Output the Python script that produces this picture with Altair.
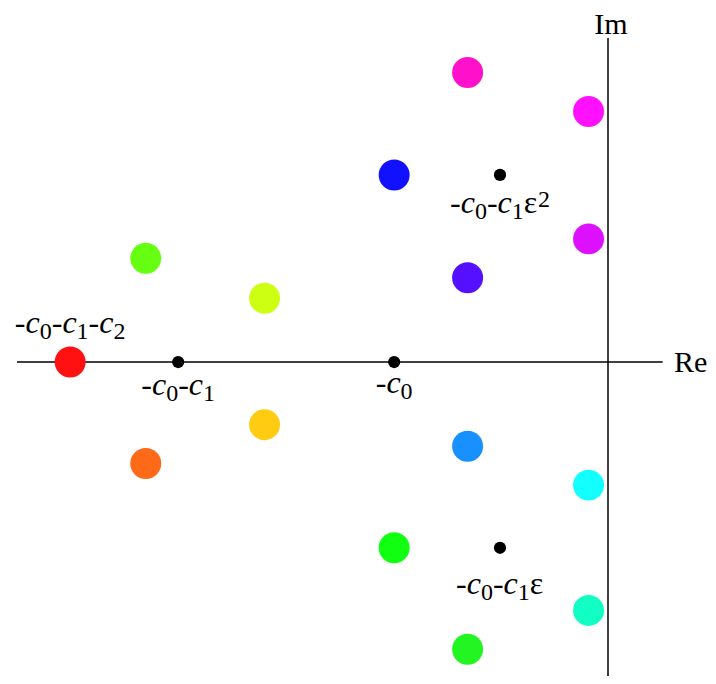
import altair as alt
import pandas as pd

# ---- data (units: c1 = 1) ----
# coloured roots
root_re = [-2.49, -2.14, -2.14, -1.59, -1.59,
           -0.99, -0.65, -0.65, -0.09, -0.09,
           -0.99, -0.65, -0.65, -0.09, -0.09]
root_im = [0.00, 0.48, -0.47, 0.295, -0.29,
           0.866, 1.34, 0.39, 1.16, 0.57,
           -0.86, -0.39, -1.33, -0.57, -1.15]
root_color = ["#ff1111", "#66ff11", "#ff6a19", "#ccff11", "#ffcc11",
              "#1111ff", "#ff11cc", "#5511ff", "#ff11ff", "#dd11ff",
              "#11ff11", "#1890ff", "#22f522", "#11ffff", "#11ffc4"]

# black centre points
center_re = [-0.99, -1.99, -0.50, -0.50]
center_im = [0.00, 0.00, 0.866, -0.86]

# labels (anchor point and text; _x subscript, ^x superscript, c italic)
label_text = ["-c_0-c_1-c_2", "-c_0-c_1", "-c_0", "-c_0-c_1ε^2", "-c_0-c_1ε"]
label_re = [-2.49, -1.99, -0.99, -0.50, -0.50]
label_im = [0.00, 0.00, 0.00, 0.866, -0.86]

# axis names
axis_names = ["Re", "Im"]

# ---- layout / style ----
W, H = 700, 668
X_DOM = [-2.7778, 0.46296]
Y_DOM = [-1.4537, 1.6389]
PX = W / (X_DOM[1] - X_DOM[0])  # pixels per unit (same on y)
FONT = "Liberation Serif"
MAIN_SIZE, SMALL_SIZE = 32, 24
label_dy = [-29, 33, 31, 38, 46]       # baseline offset below point, px
EM = {"-": 0.333, "c": 0.444, "ε": 0.44, "0": 0.5, "1": 0.5, "2": 0.5}

xs = alt.Scale(domain=X_DOM, nice=False, zero=False)
ys = alt.Scale(domain=Y_DOM, nice=False, zero=False)

# build label pieces
pieces = []
for txt, lx, ly, dy in zip(label_text, label_re, label_im, label_dy):
    toks = []
    i = 0
    while i < len(txt):
        ch = txt[i]
        if ch in "_^":
            toks.append((txt[i + 1], "sub" if ch == "_" else "sup"))
            i += 2
            continue
        toks.append((ch, "ital" if ch == "c" else "norm"))
        i += 1
    widths = [EM[t] * (SMALL_SIZE if r in ("sub", "sup") else MAIN_SIZE) for t, r in toks]
    total = sum(widths)
    cur = -total / 2
    for (t, r), w in zip(toks, widths):
        off_y = dy + (6 if r == "sub" else (-6 if r == "sup" else 0))
        pieces.append({"t": t, "role": r,
                       "x": lx + cur / PX, "y": ly - off_y / PX})
        cur += w
pdf = pd.DataFrame(pieces)

roots = pd.DataFrame({"x": root_re, "y": root_im, "c": root_color})
centers = pd.DataFrame({"x": center_re, "y": center_im})

axes_df = pd.DataFrame({"x": [-2.736, 0.0], "x2": [0.253, 0.0],
                        "y": [0.0, 1.50], "y2": [0.0, -1.50]})

axis_lines = alt.Chart(axes_df).mark_rule(color="black", strokeWidth=1.5).encode(
    x=alt.X("x:Q", scale=xs, axis=None), x2="x2:Q",
    y=alt.Y("y:Q", scale=ys, axis=None), y2="y2:Q")

# axis-name text anchored at the ends of the axes (offsets in px)
axis_text = alt.Chart(pd.DataFrame({"x": [0.253, 0.0], "y": [0.0, 1.50], "t": axis_names,
                                    "ox": [28 / PX, 3 / PX], "oy": [-10 / PX, 4 / PX]})).transform_calculate(
    tx="datum.x + datum.ox", ty="datum.y + datum.oy").mark_text(
    font=FONT, fontSize=30, align="center", baseline="alphabetic", color="black").encode(
    x=alt.X("tx:Q", scale=xs, axis=None), y=alt.Y("ty:Q", scale=ys, axis=None), text="t:N")

dots = alt.Chart(roots).mark_circle(size=960, opacity=1).encode(
    x=alt.X("x:Q", scale=xs, axis=None), y=alt.Y("y:Q", scale=ys, axis=None),
    color=alt.Color("c:N", scale=None))

cdots = alt.Chart(centers).mark_circle(size=150, opacity=1, color="black").encode(
    x=alt.X("x:Q", scale=xs, axis=None), y=alt.Y("y:Q", scale=ys, axis=None))

def text_layer(role, size, style):
    return alt.Chart(pdf).transform_filter(alt.datum.role == role).mark_text(
        font=FONT, fontSize=size, fontStyle=style, align="left",
        baseline="alphabetic", color="black").encode(
        x=alt.X("x:Q", scale=xs, axis=None), y=alt.Y("y:Q", scale=ys, axis=None),
        text="t:N")

chart = alt.layer(
    axis_lines, dots, cdots, axis_text,
    text_layer("norm", MAIN_SIZE, "normal"),
    text_layer("ital", MAIN_SIZE, "italic"),
    text_layer("sub", SMALL_SIZE, "normal"),
    text_layer("sup", SMALL_SIZE, "normal"),
).properties(width=W, height=H, padding=0, autosize="none").configure_view(stroke=None)

chart.save("out.html", embed_options={"renderer": "svg", "actions": False})
